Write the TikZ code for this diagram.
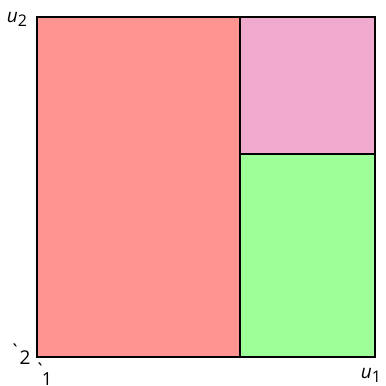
\documentclass[tikz,border=0pt]{standalone}
\usepackage{fontspec}
\setmainfont{Open Sans}
\definecolor{cred}{HTML}{FF9490}
\definecolor{cpink}{HTML}{F0AACE}
\definecolor{cgreen}{HTML}{9EFF98}
\begin{document}
\begin{tikzpicture}[x=1pt,y=1pt,
  region/.style={draw=black,line width=2.8pt},
  lbl/.style={inner sep=0pt,font=\fontsize{19}{19}\selectfont}]
\useasboundingbox (0,0) rectangle (386,386);
\fill[cred] (37,29) rectangle (240,369);
\fill[cpink] (240,232) rectangle (375,369);
\fill[cgreen] (240,29) rectangle (375,232);
\draw[region] (37,29) rectangle (375,369);
\draw[region] (240,29) -- (240,369);
\draw[region] (240,232) -- (375,232);
\node[lbl] (u2) at (17,367) {\textit{u}\raisebox{-4pt}{\fontsize{16}{16}\selectfont 2}};
\node[lbl] (u1) at (371,11) {\textit{u}\raisebox{-4pt}{\fontsize{16}{16}\selectfont 1}};
\node[lbl] (g2) at (15,35) {\textasciigrave};
\node[lbl] (l2) at (25,28) {2};
\node[lbl] (g1) at (40,16) {\textasciigrave};
\node[lbl,font=\fontsize{18}{18}\selectfont] (l1) at (47,7) {1};
\end{tikzpicture}
\end{document}
